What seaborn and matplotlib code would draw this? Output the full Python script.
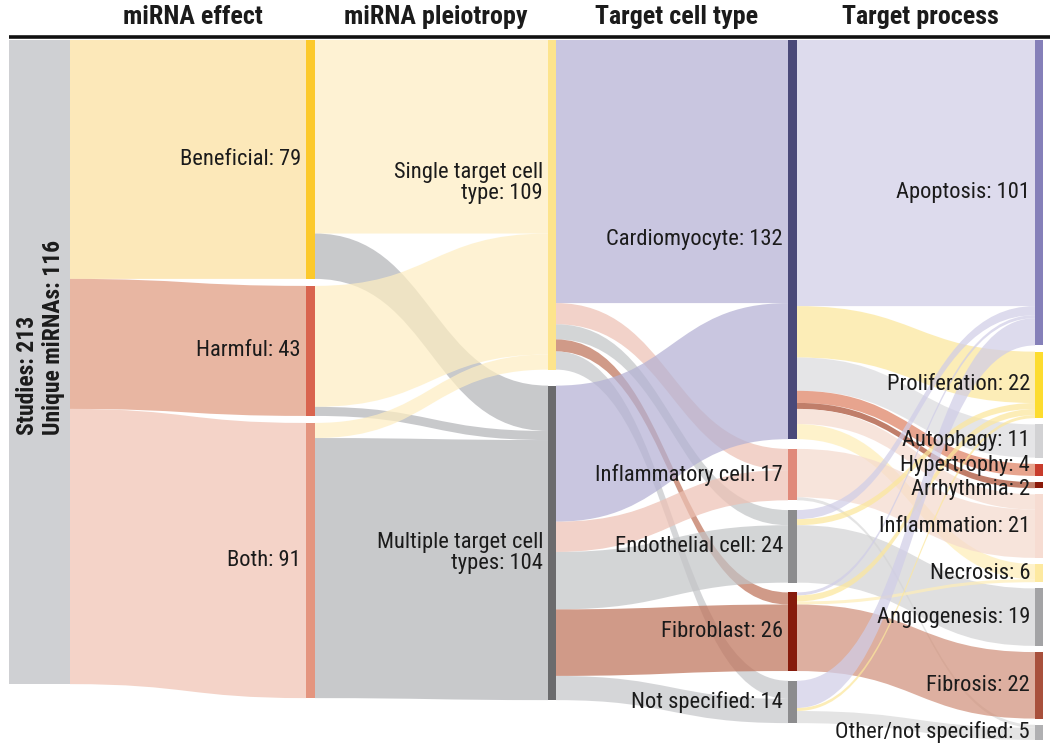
import matplotlib
import numpy as np
import pandas as pd

matplotlib.use("Agg")
import matplotlib.pyplot as plt
import matplotlib.colors as mcolors
from matplotlib import font_manager
from matplotlib.path import Path
from matplotlib.patches import PathPatch, Rectangle

import seaborn as sns

sns.set_theme(style="white")

# ---- data ----
headers = ["miRNA effect", "miRNA pleiotropy", "Target cell type", "Target process"]

studies_total = 213
unique_mirnas = 116

effect_nodes = ["Beneficial", "Harmful", "Both"]
effect_values = [79, 43, 91]

pleiotropy_nodes = ["Single target cell\ntype", "Multiple target cell\ntypes"]
pleiotropy_values = [109, 104]

cell_nodes = ["Cardiomyocyte", "Inflammatory cell", "Endothelial cell", "Fibroblast", "Not specified"]
cell_values = [132, 17, 24, 26, 14]

process_nodes = ["Apoptosis", "Proliferation", "Autophagy", "Hypertrophy", "Arrhythmia",
                 "Inflammation", "Necrosis", "Angiogenesis", "Fibrosis", "Other/not specified"]
process_values = [101, 22, 11, 4, 2, 21, 6, 19, 22, 5]

# link counts, rows = source node, columns = target node
studies_to_effect = [[79, 43, 91]]
effect_to_pleiotropy = [[64, 15], [40, 3], [5, 86]]
pleiotropy_to_cell = [[87, 7, 5, 4, 6], [45, 10, 19, 22, 8]]
cell_to_process = [
    [88, 17, 11, 4, 2, 5, 5, 0, 0, 0],
    [0, 0, 0, 0, 0, 16, 0, 0, 0, 1],
    [3, 2, 0, 0, 0, 0, 0, 19, 0, 0],
    [1, 2, 0, 0, 0, 0, 1, 0, 22, 0],
    [9, 1, 0, 0, 0, 0, 0, 0, 0, 4],
]

# ---- style ----
bar_colors = [
    ["#cfd0d3"],
    ["#fcc92b", "#d9644e", "#e4957f"],
    ["#fde48c", "#6b6b6d"],
    ["#4a4979", "#e0897a", "#8c8c8e", "#861b0c", "#8c8c8e"],
    ["#8580b9", "#fddc2e", "#d2d2d4", "#c83c2c", "#8b1a0a",
     "#f6dcd2", "#fde9a0", "#a3a3a5", "#a8503c", "#b0b0b2"],
]
# how each incoming flow looks on white
flow_colors = [
    None,
    ["#fde9b9", "#e9b6a3", "#f4d4c8"],
    ["#fef3d3", "#c8c9cc"],
    ["#c9c7e0", "#f2d2c9", "#d4d5d7", "#d19a88", "#d6d7d9"],
    ["#dddbee", "#fdeeb8", "#e6e6e7", "#e8a48f", "#c07f6a",
     "#f8e4dc", "#fef3cc", "#dfdfe0", "#deb0a0", "#e4e4e4"],
]
FLOW_ALPHA = 0.72
col_x = [(9, 70), (306, 315), (548, 556), (788, 797), (1035, 1043)]
col_gap = [0, 7, 16, 9.75, 6.2]
K = 3.024
TOP = 40
TEXT = "#1b1b1b"
# small vertical nudges (px) for crowded or wrapped labels
label_nudge = {"Single target cell\ntype": -22, "Multiple target cell\ntypes": 10,
               "Hypertrophy": -4, "Arrhythmia": 4}

available = {f.name for f in font_manager.fontManager.ttflist}
FONT = "DejaVu Sans"
for cand in ["Liberation Sans Narrow", "Roboto Condensed", "DejaVu Sans Condensed", "Open Sans Condensed", "Roboto"]:
    if cand in available:
        FONT = cand
        break
plt.rcParams["font.family"] = [FONT, "DejaVu Sans"]


def base_color(hex_color, alpha):
    rgb = np.array(mcolors.to_rgb(hex_color))
    return tuple(np.clip(1 - (1 - rgb) / alpha, 0, 1))


def layout(values, gap):
    tops, pos = [], TOP
    for v in values:
        tops.append(pos)
        pos += v * K + gap
    return tops


def draw_flow(ax, x0, x1, y0a, y0b, y1a, y1b, color):
    xm = (x0 + x1) / 2
    verts = [(x0, y0a), (xm, y0a), (xm, y1a), (x1, y1a), (x1, y1b),
             (xm, y1b), (xm, y0b), (x0, y0b), (x0, y0a)]
    codes = [Path.MOVETO, Path.CURVE4, Path.CURVE4, Path.CURVE4, Path.LINETO,
             Path.CURVE4, Path.CURVE4, Path.CURVE4, Path.CLOSEPOLY]
    ax.add_patch(PathPatch(Path(verts, codes), facecolor=base_color(color, FLOW_ALPHA),
                           alpha=FLOW_ALPHA, edgecolor="none", zorder=1))


fig = plt.figure(figsize=(10.5, 7.52), dpi=100)
ax = fig.add_axes([0, 0, 1, 1])
ax.set_xlim(0, 1050)
ax.set_ylim(752, 0)
ax.axis("off")

columns = [[studies_total], effect_values, pleiotropy_values, cell_values, process_values]
labels = [None, effect_nodes, pleiotropy_nodes, cell_nodes, process_nodes]
links = [studies_to_effect, effect_to_pleiotropy, pleiotropy_to_cell, cell_to_process]
tops = [layout(vals, gap) for vals, gap in zip(columns, col_gap)]

# flows
for c, matrix in enumerate(links):
    m = np.array(matrix)
    src_off = list(tops[c])
    tgt_off = list(tops[c + 1])
    x0 = col_x[c][1]
    x1 = col_x[c + 1][0]
    for i in range(m.shape[0]):
        for j in range(m.shape[1]):
            v = m[i, j]
            if v == 0:
                continue
            h = v * K
            draw_flow(ax, x0, x1, src_off[i], src_off[i] + h, tgt_off[j], tgt_off[j] + h,
                      flow_colors[c + 1][j])
            src_off[i] += h
            tgt_off[j] += h

# node bars and labels
for c, vals in enumerate(columns):
    xl, xr = col_x[c]
    for k, v in enumerate(vals):
        y = tops[c][k]
        ax.add_patch(Rectangle((xl, y), xr - xl, v * K, facecolor=bar_colors[c][k],
                               edgecolor="none", zorder=2))
        if labels[c] is not None:
            name = labels[c][k]
            ax.text(xl - 5, y + v * K / 2 + label_nudge.get(name, 0), f"{name}: {v}",
                    ha="right", va="center", fontsize=16.2, color=TEXT,
                    linespacing=1.0, zorder=3)

# studies label (lines start at the same baseline end, like the original)
ax.text((col_x[0][0] + col_x[0][1]) / 2 + 1, 435,
        f"Studies: {studies_total}\nUnique miRNAs: {unique_mirnas}",
        rotation=90, ha="center", va="bottom", multialignment="left",
        fontsize=17, fontweight="bold", color=TEXT, linespacing=1.15, zorder=3)

# column headers and top rule
for c, name in enumerate(headers):
    xc = (col_x[c][1] + col_x[c + 1][1]) / 2
    ax.text(xc, 17, name, ha="center", va="center", fontsize=18.7, fontweight="bold", color=TEXT)
ax.plot([col_x[0][0], 1050], [36.5, 36.5], color="#111111", lw=2.6, solid_capstyle="butt")

fig.savefig("out.png", dpi=100)
